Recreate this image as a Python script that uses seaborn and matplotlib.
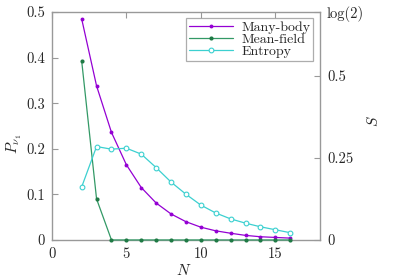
import numpy as np
import pandas as pd
import matplotlib
matplotlib.use("Agg")
import matplotlib.pyplot as plt
import seaborn as sns

# -----------------------------
# data
# -----------------------------
N = list(range(2, 17))
many_body = [0.485, 0.338, 0.236, 0.165, 0.115, 0.081, 0.057, 0.040,
             0.028, 0.020, 0.0147, 0.010, 0.007, 0.0055, 0.004]
mean_field = [0.393, 0.090, 0.0, 0.0, 0.0, 0.0, 0.0, 0.0,
              0.0, 0.0, 0.0, 0.0, 0.0, 0.0, 0.0]
entropy = [0.161, 0.284, 0.276, 0.279, 0.261, 0.220, 0.176, 0.139,
           0.106, 0.082, 0.064, 0.051, 0.040, 0.031, 0.022]

x_ticks = [0, 5, 10, 15]
y_ticks = [0, 0.1, 0.2, 0.3, 0.4, 0.5]
s_ticks = [0, 0.25, 0.5, np.log(2)]
s_tick_labels = ["0", "0.25", "0.5", "log(2)"]

c_mb = "#9400d3"
c_mf = "#339966"
c_en = "#3cd0d0"
frame = "#999999"

sns.set_style("white")
plt.rcParams["font.family"] = ["cmr10", "DejaVu Serif"]
plt.rcParams["mathtext.fontset"] = "cm"
plt.rcParams["axes.formatter.use_mathtext"] = True

df = pd.DataFrame({"N": N, "mb": many_body, "mf": mean_field, "S": entropy})

fig = plt.figure(figsize=(3.99, 2.79), dpi=100)
ax = fig.add_axes([0.130, 0.140, 0.672, 0.817])
ax2 = ax.twinx()

sns.lineplot(data=df, x="N", y="mb", ax=ax, color=c_mb, lw=0.9,
             marker="o", markersize=2.8, markeredgewidth=0, label="Many-body", legend=False)
sns.lineplot(data=df, x="N", y="mf", ax=ax, color=c_mf, lw=0.9,
             marker="o", markersize=3.0, markeredgewidth=0, markerfacecolor="#1f7a45",
             label="Mean-field", legend=False)
sns.lineplot(data=df, x="N", y="S", ax=ax2, color=c_en, lw=0.9,
             marker="o", markersize=3.4, markerfacecolor="white", markeredgecolor=c_en,
             markeredgewidth=0.8, label="Entropy", legend=False)

for ln in ax.get_lines() + ax2.get_lines():
    ln.set_clip_on(False)
    ln.set_zorder(5)

ax.set_xlim(0, 18)
ax.set_ylim(0, 0.5)
ax2.set_ylim(0, np.log(2))

ax.set_xticks(x_ticks)
ax.set_xticklabels([str(t) for t in x_ticks])
ax.set_yticks(y_ticks)
ax.set_yticklabels(["0", "0.1", "0.2", "0.3", "0.4", "0.5"])
ax2.set_yticks(s_ticks)
ax2.set_yticklabels(s_tick_labels)

for a in (ax, ax2):
    for sp in a.spines.values():
        sp.set_color(frame)
        sp.set_linewidth(1.0)
        sp.set_zorder(1)
    a.tick_params(direction="in", length=4, width=0.8, color=frame,
                  labelsize=10.5, pad=5)

# twin axes sits on top: keep only its right spine so it does not hide ax's lines
for side in ("left", "top", "bottom"):
    ax2.spines[side].set_visible(False)
ax.spines["right"].set_visible(False)

ax.tick_params(axis="x", top=True)
ax.tick_params(axis="y", right=False, left=True)
ax2.tick_params(axis="y", right=True, left=False)

ax.set_xlabel("$N$", fontsize=11)
ax.xaxis.set_label_coords(0.49, -0.10)
ax.set_ylabel(r"$P_{\nu_1}$", fontsize=11)
ax.yaxis.set_label_coords(-0.105, 0.42)
ax2.set_ylabel("$S$", fontsize=11, rotation=90)
ax2.yaxis.set_label_coords(1.17, 0.52)

handles = ax.get_lines()[:2] + ax2.get_lines()[:1]
leg = ax2.legend(handles, ["Many-body", "Mean-field", "Entropy"],
                 loc="upper right", bbox_to_anchor=(0.985, 0.985),
                 fontsize=10, frameon=True, fancybox=False,
                 handlelength=3.2, handletextpad=0.6, borderpad=0.2,
                 labelspacing=-0.05, borderaxespad=0.2)
leg.get_frame().set_edgecolor(frame)
leg.get_frame().set_linewidth(0.9)
leg.set_zorder(10)

fig.savefig("out.png", dpi=100)
